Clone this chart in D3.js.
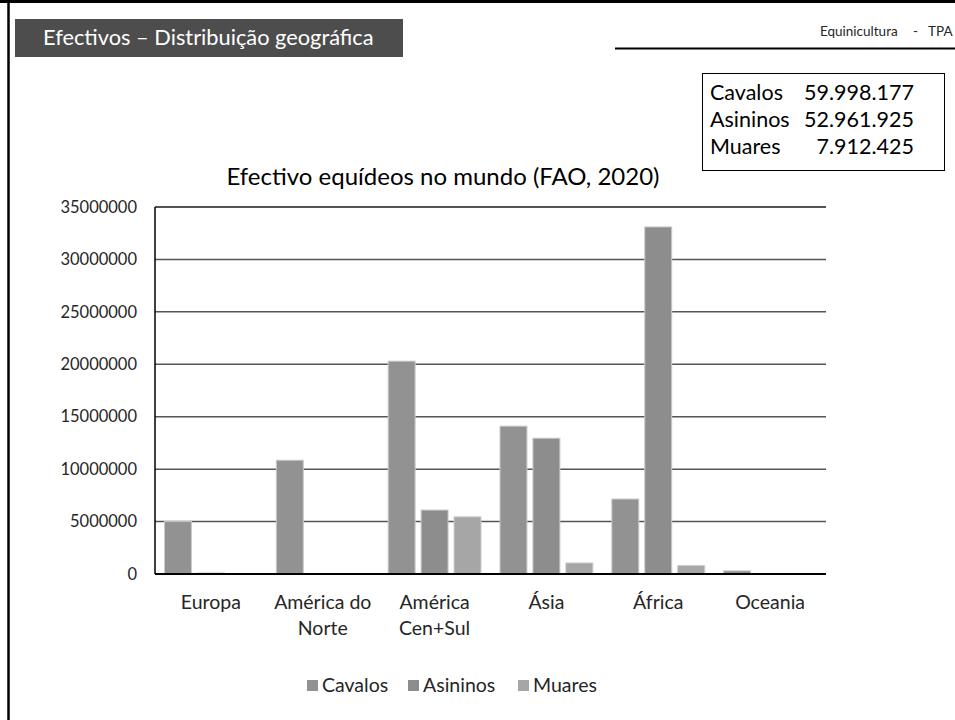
<!DOCTYPE html>
<html lang="pt">
<head>
<meta charset="UTF-8">
<title>Efectivo equídeos no mundo (FAO, 2020)</title>
<script src="https://cdn.jsdelivr.net/npm/d3@7"></script>
<style>
    body { margin: 0; background: #fff; }
    svg { display: block; font-family: Lato, "Open Sans", sans-serif; }
    .tick-label { font-size: 16.5px; fill: #262626; }
    .cat-label { font-size: 19.5px; fill: #262626; }
    .legend text { font-size: 19.5px; fill: #262626; }
</style>
</head>
<body>
<svg id="chart" width="955" height="720"></svg>
<script>
    // data
    var categories = ["Europa", "América do Norte", "América Cen+Sul", "Ásia", "África", "Oceania"];
    var categoryLines = [["Europa"], ["América do", "Norte"], ["América", "Cen+Sul"], ["Ásia"], ["África"], ["Oceania"]];
    var seriesNames = ["Cavalos", "Asininos", "Muares"];
    var cavalos = [5000000, 10850000, 20300000, 14100000, 7150000, 300000];
    var asininos = [100000, 0, 6100000, 12950000, 33100000, 0];
    var muares = [0, 0, 5450000, 1050000, 800000, 0];
    var yTicks = [0, 5000000, 10000000, 15000000, 20000000, 25000000, 30000000, 35000000];
    var totals = [["Cavalos", "59.998.177"], ["Asininos", "52.961.925"], ["Muares", "7.912.425"]];

    var seriesValues = [cavalos, asininos, muares];
    var colors = ["#929292", "#8d8d8d", "#a6a6a6"];

    var svg = d3.select("#chart");

    // slide frame
    svg.append("line").attr("x1", 0).attr("x2", 955).attr("y1", 1.5).attr("y2", 1.5)
        .attr("stroke", "#000").attr("stroke-width", 3);
    svg.append("line").attr("x1", 8.5).attr("x2", 8.5).attr("y1", 0).attr("y2", 720)
        .attr("stroke", "#000").attr("stroke-width", 2.5);

    // header box
    svg.append("rect").attr("x", 15).attr("y", 19).attr("width", 388).attr("height", 38)
        .attr("fill", "#4d4d4d");
    svg.append("text").attr("x", 43).attr("y", 45)
        .attr("fill", "#fff").style("font-size", "21.8px")
        .text("Efectivos – Distribuição geográfica");

    // running header, top right
    var rh = svg.append("g").style("font-size", "13.5px").attr("fill", "#262626");
    rh.append("text").attr("x", 820).attr("y", 36).text("Equinicultura");
    rh.append("text").attr("x", 913).attr("y", 36).text("-");
    rh.append("text").attr("x", 928).attr("y", 36).text("TPA");
    svg.append("line").attr("x1", 615).attr("x2", 955).attr("y1", 48.5).attr("y2", 48.5)
        .attr("stroke", "#000").attr("stroke-width", 2);

    // totals box
    svg.append("rect").attr("x", 702.5).attr("y", 73.5).attr("width", 242).attr("height", 97)
        .attr("fill", "#fff").attr("stroke", "#000").attr("stroke-width", 1);
    var tot = svg.append("g");
    totals.forEach(function(t, i) {
        tot.append("text").attr("x", 710).attr("y", 100 + i * 27)
            .style("font-size", "21.5px").attr("fill", "#000").text(t[0]);
        tot.append("text").attr("x", 914).attr("y", 100 + i * 27).attr("text-anchor", "end")
            .style("font-size", "21.5px").attr("fill", "#000").text(t[1]);
    });

    // chart title
    svg.append("text").attr("x", 443).attr("y", 185).attr("text-anchor", "middle")
        .style("font-size", "24px").attr("fill", "#000")
        .text("Efectivo equídeos no mundo (FAO, 2020)");

    // scales
    var plotLeft = 155, plotRight = 826, plotTop = 207, plotBottom = 574;
    var x0 = d3.scaleBand().domain(categories).range([plotLeft, plotRight]);
    var inner = 9.5;
    var x1 = d3.scaleBand().domain(seriesNames)
        .range([inner, x0.bandwidth() - inner]).paddingInner(0.1818);
    var y = d3.scaleLinear().domain([0, 35000000]).range([plotBottom, plotTop]);

    // gridlines
    svg.append("g").selectAll("line").data(yTicks.slice(1)).enter().append("line")
        .attr("x1", plotLeft).attr("x2", plotRight)
        .attr("y1", function(d) { return y(d); }).attr("y2", function(d) { return y(d); })
        .attr("stroke", function(d) { return d === 35000000 ? "#1a1a1a" : "#555"; })
        .attr("stroke-width", 1.5);

    // bars
    var rows = categories.map(function(c, i) {
        return seriesNames.map(function(s, j) { return {cat: c, name: s, idx: j, value: seriesValues[j][i]}; });
    });
    svg.append("g").selectAll("g").data(rows).enter().append("g")
        .attr("transform", function(d, i) { return "translate(" + x0(categories[i]) + ",0)"; })
        .selectAll("rect").data(function(d) { return d.filter(function(e) { return e.value > 0; }); })
        .enter().append("rect")
        .attr("x", function(d) { return x1(d.name); })
        .attr("width", x1.bandwidth())
        .attr("y", function(d) { return y(d.value); })
        .attr("height", function(d) { return plotBottom - y(d.value); })
        .attr("fill", function(d) { return colors[d.idx]; })
        .attr("stroke", "#cacaca").attr("stroke-width", 1);

    // axes lines
    svg.append("line").attr("x1", plotLeft).attr("x2", plotLeft).attr("y1", plotTop).attr("y2", plotBottom)
        .attr("stroke", "#000").attr("stroke-width", 1.5);
    svg.append("line").attr("x1", plotLeft).attr("x2", plotRight).attr("y1", plotBottom).attr("y2", plotBottom)
        .attr("stroke", "#000").attr("stroke-width", 2);

    // y tick labels
    svg.append("g").selectAll("text").data(yTicks).enter().append("text")
        .attr("class", "tick-label")
        .attr("x", 137).attr("y", function(d) { return y(d); }).attr("dy", "0.35em")
        .attr("text-anchor", "end")
        .text(function(d) { return d3.format("d")(d); });

    // category labels
    var cl = svg.append("g").selectAll("text").data(categories).enter().append("text")
        .attr("class", "cat-label").attr("text-anchor", "middle")
        .attr("x", function(d) { return x0(d) + x0.bandwidth() / 2; })
        .attr("y", 609);
    cl.selectAll("tspan").data(function(d, i) { return categoryLines[i]; }).enter().append("tspan")
        .attr("x", function() { var c = d3.select(this.parentNode).datum(); return x0(c) + x0.bandwidth() / 2; })
        .attr("dy", function(d, i) { return i === 0 ? 0 : 26; })
        .text(function(d) { return d; });

    // legend
    var legendX = [307, 408, 518];
    var legend = svg.append("g").attr("class", "legend").selectAll("g").data(seriesNames).enter().append("g")
        .attr("transform", function(d, i) { return "translate(" + legendX[i] + ",680)"; });
    legend.append("rect").attr("width", 11).attr("height", 11)
        .attr("fill", function(d, i) { return colors[i]; });
    legend.append("text").attr("x", 15).attr("y", 12).text(function(d) { return d; });
</script>
</body>
</html>
